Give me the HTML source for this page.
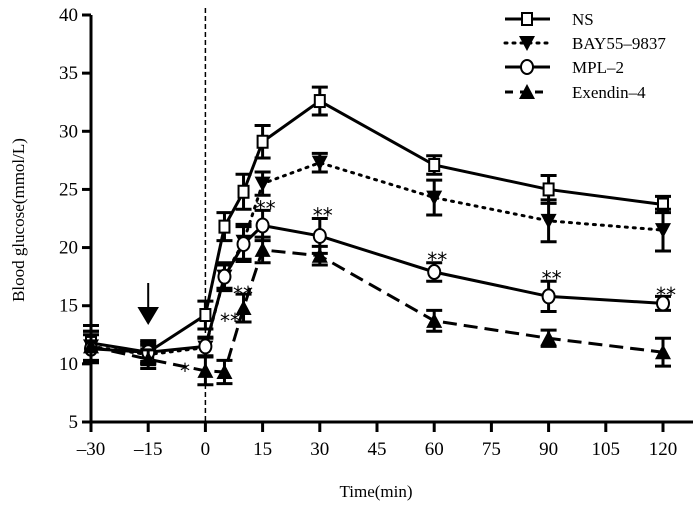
<!DOCTYPE html>
<html><head><meta charset="utf-8"><style>
body{margin:0;background:#fff}
svg{display:block;font-family:"Liberation Serif",serif}
</style></head><body>
<svg id="chart" width="700" height="510" viewBox="0 0 700 510">
<g id="axes"></g>
<g id="series"></g>
<g id="legend"></g>
</svg>
<script>
const times=[-30,-15,0,5,10,15,30,60,90,120];
const xTicks=[-30,-15,0,15,30,45,60,75,90,105,120];
const yTicks=[5,10,15,20,25,30,35,40];
const seriesNames=["NS","BAY55\u20139837","MPL\u20132","Exendin\u20134"];
const nsVals=[11.8,11.0,14.2,21.8,24.8,29.1,32.6,27.1,25.0,23.7];
const nsErr=[1.5,1.0,1.2,1.2,1.5,1.4,1.2,0.8,1.2,0.7];
const bayVals=[11.5,10.8,11.4,17.5,20.5,25.5,27.3,24.3,22.3,21.5];
const bayErr=[1.3,0.8,0.8,1.2,1.5,1.0,0.8,1.5,1.8,1.8];
const mplVals=[11.3,11.0,11.5,17.5,20.3,21.9,21.0,17.9,15.8,15.2];
const mplErr=[1.2,0.8,0.8,1.0,1.5,1.3,1.5,0.8,1.3,0.6];
const exVals=[11.5,10.4,9.4,9.3,14.8,19.8,19.3,13.7,12.2,11.0];
const exErr=[1.3,0.8,1.2,1.0,1.2,1.1,0.8,0.9,0.7,1.2];
const sigTimes=[15,30,60,90,120];
const sigVals=[23.6,23.0,19.2,17.6,16.2];

const NS="http://www.w3.org/2000/svg";
const X=t=>91+(t+30)*572/150;
const Y=v=>422-(v-5)*407/35;
function mk(tag,attrs,parent,text){const e=document.createElementNS(NS,tag);for(const k in attrs)e.setAttribute(k,attrs[k]);if(text!==undefined)e.textContent=text;parent.appendChild(e);return e;}
const axes=document.getElementById('axes'),ser=document.getElementById('series'),leg=document.getElementById('legend');

let a=mk('line',{x1:91,y1:15,x2:91,y2:423,stroke:'#000','stroke-width':3},axes);


a=mk('line',{x1:89,y1:422,x2:693,y2:422,stroke:'#000','stroke-width':3},axes);


yTicks.forEach(v=>{
 let l=mk('line',{x1:82,y1:Y(v),x2:91,y2:Y(v),stroke:'#000','stroke-width':3},axes);
 
 
 let t=mk('text',{x:78,y:Y(v)+6,'text-anchor':'end','font-size':19},axes,v);
 
 
});
xTicks.forEach(v=>{
 let l=mk('line',{x1:X(v),y1:422,x2:X(v),y2:432,stroke:'#000','stroke-width':3},axes);
 
 
 let t=mk('text',{x:X(v),y:455,'text-anchor':'middle','font-size':19},axes,v<0?'\u2013'+(-v):v);
 
 
});
a=mk('text',{x:376,y:497,'text-anchor':'middle','font-size':17},axes,'Time(min)');


a=mk('text',{x:0,y:0,'text-anchor':'middle','font-size':17,transform:'translate(24,220) rotate(-90)'},axes,'Blood glucose(mmol/L)');


a=mk('line',{x1:X(0),y1:8,x2:X(0),y2:422,stroke:'#000','stroke-width':1.5,'stroke-dasharray':'5,3'},axes);


a=mk('path',{d:`M${X(-15)},283 V318 M${X(-15)-9},308 L${X(-15)},323 L${X(-15)+9},308 Z`,stroke:'#000','stroke-width':2,fill:'#000'},axes);



function marker(type,cx,cy,p){
 if(type==0)return mk('rect',{x:cx-5,y:cy-6,width:10,height:12,fill:'#fff',stroke:'#000','stroke-width':2},p);
 if(type==1)return mk('path',{d:`M${cx-8},${cy-7} L${cx+8},${cy-7} L${cx},${cy+8} Z`,fill:'#000'},p);
 if(type==2)return mk('ellipse',{cx:cx,cy:cy,rx:6,ry:7,fill:'#fff',stroke:'#000','stroke-width':2},p);
 return mk('path',{d:`M${cx-8},${cy+7} L${cx+8},${cy+7} L${cx},${cy-8} Z`,fill:'#000'},p);
}
const allVals=[nsVals,bayVals,mplVals,exVals],allErr=[nsErr,bayErr,mplErr,exErr];
const dashes=['none','2,6','none','14,7'];
const caps=['butt','round','butt','butt'];
allVals.forEach((vals,s)=>{
 const g=mk('g',{},ser);
 
 
 const d=vals.map((v,i)=>(i?'L':'M')+X(times[i])+','+Y(v)).join(' ');
 let p=mk('path',{d:d,fill:'none',stroke:'#000','stroke-width':3,'stroke-dasharray':dashes[s],'stroke-linecap':caps[s]},g);
 
 
 vals.forEach((v,i)=>{
  const x=X(times[i]),e=allErr[s][i];
  let eb=mk('path',{d:`M${x},${Y(v+e)} V${Y(v-e)} M${x-8},${Y(v+e)} H${x+8} M${x-8},${Y(v-e)} H${x+8}`,stroke:'#000','stroke-width':3,fill:'none'},g);
  
  
  let m=marker(s,x,Y(v),g);
  
  
 });
});
sigTimes.forEach((t,i)=>{
 let s=mk('text',{x:X(t)+3,y:Y(sigVals[i])+10,'text-anchor':'middle','font-size':20,'font-family':'DejaVu Sans'},ser,'**');
 
 
});
[[243,301,'**'],[230,328,'**'],[185,378,'*']].forEach(q=>{
 let s=mk('text',{x:q[0],y:q[1],'text-anchor':'middle','font-size':20,'font-family':'DejaVu Sans'},ser,q[2]);
 
 
});
seriesNames.forEach((n,s)=>{
 const y=[19,43,67,92][s];
 const g=mk('g',{},leg);
 
 
 mk('line',{x1:505,y1:y,x2:550,y2:y,stroke:'#000','stroke-width':3,'stroke-dasharray':s==1?'2,6':(s==3?'8,7':'none'),'stroke-linecap':caps[s]},g);
 marker(s,527,y,g);
 mk('text',{x:572,y:y+6,'font-size':17},g,n);
});
</script>
</body></html>
